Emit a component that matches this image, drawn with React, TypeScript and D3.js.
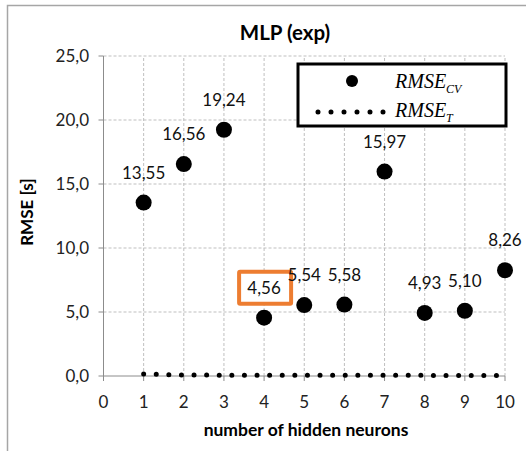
import React from "react";
import * as d3 from "d3";

const neurons = [1, 2, 3, 4, 5, 6, 7, 8, 9, 10];
const rmseCV = [13.55, 16.56, 19.24, 4.56, 5.54, 5.58, 15.97, 4.93, 5.1, 8.26];
const rmseT = [0.15, 0.08, 0.06, 0.05, 0.05, 0.05, 0.05, 0.05, 0.04, 0.04];
const cvLabels = ["13,55", "16,56", "19,24", "4,56", "5,54", "5,58", "15,97", "4,93", "5,10", "8,26"];
const xTicks = [0, 1, 2, 3, 4, 5, 6, 7, 8, 9, 10];
const yTicks = [0, 5, 10, 15, 20, 25];
const highlighted = 4;

const W = 526;
const H = 451;
const FONT = "Lato, 'Open Sans', sans-serif";

export default function App() {
  const x = d3.scaleLinear().domain([0, 10]).range([103.5, 505]);
  const y = d3.scaleLinear().domain([0, 25]).range([376, 56]);
  const fmt = (v: number) => v.toFixed(1).replace(".", ",");
  const lineT = d3
    .line<number>()
    .x((_, i) => x(neurons[i]))
    .y((d) => y(d))(rmseT);
  const grid = "#bfbfbf";
  const axis = "#8c8c8c";

  return (
    <svg width={W} height={H} style={{ position: "absolute", left: 0, top: 0, background: "#fff" }}>
      <rect x={7.5} y={5.5} width={W + 20} height={H + 20} fill="#fff" stroke="#a6a6a6" strokeWidth={1.5} />
      <text x={285} y={40} textAnchor="middle" fontFamily={FONT} fontWeight="bold" fontSize={20.5} fill="#000">
        MLP (exp)
      </text>
      {/* gridlines */}
      {yTicks.filter((t) => t > 0).map((t) => (
        <line key={"gy" + t} x1={x(0)} x2={x(10)} y1={y(t)} y2={y(t)} stroke={grid} strokeDasharray="3,2" />
      ))}
      {xTicks.filter((t) => t > 0).map((t) => (
        <line key={"gx" + t} x1={x(t)} x2={x(t)} y1={y(0)} y2={y(25)} stroke={grid} strokeDasharray="3,2" />
      ))}
      {/* axes */}
      <line x1={x(0)} x2={x(0)} y1={y(0)} y2={y(25)} stroke={axis} strokeWidth={1} />
      <line x1={x(0)} x2={x(10)} y1={y(0)} y2={y(0)} stroke={axis} strokeWidth={1} />
      {yTicks.map((t) => (
        <g key={"yt" + t}>
          <line x1={x(0) - 5} x2={x(0)} y1={y(t)} y2={y(t)} stroke={axis} />
          <text x={89} y={y(t) + 6} textAnchor="end" fontFamily={FONT} fontSize={17} fill="#222">
            {fmt(t)}
          </text>
        </g>
      ))}
      {xTicks.map((t) => (
        <g key={"xt" + t}>
          <line x1={x(t)} x2={x(t)} y1={y(0)} y2={y(0) + 5} stroke={axis} />
          <text x={x(t)} y={408} textAnchor="middle" fontFamily={FONT} fontSize={17} fill="#222">
            {t}
          </text>
        </g>
      ))}
      <text x={306} y={436} textAnchor="middle" fontFamily={FONT} fontWeight="bold" fontSize={17.5} fill="#000">
        number of hidden neurons
      </text>
      <text
        transform={`translate(33,${y(12.8)}) rotate(-90)`}
        textAnchor="middle"
        fontFamily={FONT}
        fontWeight="bold"
        fontSize={17}
        fill="#000"
      >
        RMSE [s]
      </text>
      {/* RMSE_T dotted */}
      <path d={lineT || ""} fill="none" stroke="#000" strokeWidth={5} strokeLinecap="round" strokeDasharray="0,12.6" />
      {/* RMSE_CV points */}
      {rmseCV.map((v, i) => (
        <circle key={"p" + i} cx={x(neurons[i])} cy={y(v)} r={8} fill="#000" />
      ))}
      {rmseCV.map((v, i) => {
        const cx = x(neurons[i]);
        const cy = y(v);
        const hl = neurons[i] === highlighted;
        return (
          <g key={"l" + i}>
            {hl && (
              <rect x={cx - 25} y={cy - 46} width={52} height={32} fill="#fff" stroke="#ED7D31" strokeWidth={4} rx={1} />
            )}
            <text x={cx} y={cy - 24} textAnchor="middle" fontFamily={FONT} fontSize={17} fill="#111">
              {cvLabels[i]}
            </text>
          </g>
        );
      })}
      {/* legend */}
      <rect x={298} y={64} width={208} height={62} fill="#fff" stroke="#000" strokeWidth={3} />
      <circle cx={352} cy={81} r={6} fill="#000" />
      <line x1={318} x2={384} y1={112} y2={112} stroke="#000" strokeWidth={5} strokeLinecap="round" strokeDasharray="0,13" />
      <text x={395} y={88} fontFamily="'Liberation Serif', serif" fontStyle="italic" fontSize={20} fill="#000">
        RMSE
        <tspan fontSize={12} dy={5}>CV</tspan>
      </text>
      <text x={395} y={117} fontFamily="'Liberation Serif', serif" fontStyle="italic" fontSize={20} fill="#000">
        RMSE
        <tspan fontSize={12} dy={5}>T</tspan>
      </text>
    </svg>
  );
}
